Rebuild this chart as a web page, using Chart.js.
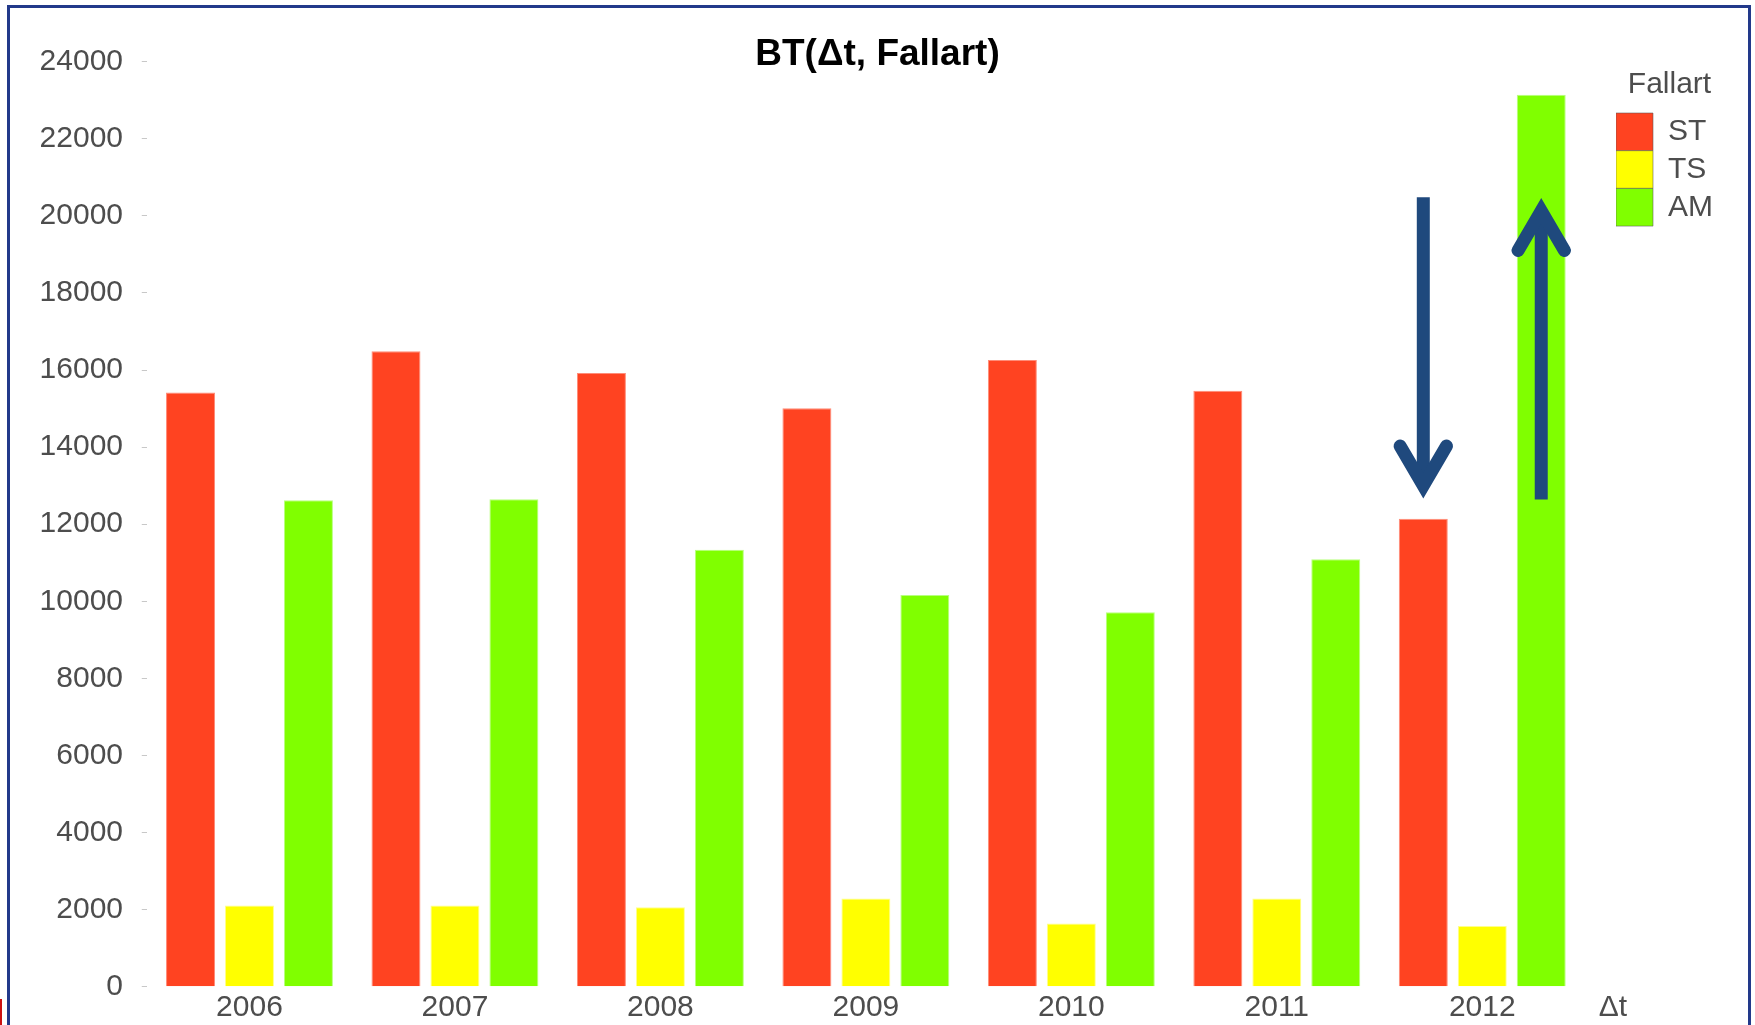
<!DOCTYPE html>
<html>
<head>
<meta charset="utf-8">
<script src="https://cdn.jsdelivr.net/npm/chart.js@4.4.1/dist/chart.umd.min.js"></script>
<style>
html,body{margin:0;padding:0;background:#fff;}
canvas{display:block;}
</style>
</head>
<body>
<canvas id="c" width="1755" height="1025"></canvas>
<script>
// ---- data ----
const categories = ['2006', '2007', '2008', '2009', '2010', '2011', '2012'];
const seriesNames = ['ST', 'TS', 'AM'];
const stValues = [15420, 16490, 15920, 15010, 16260, 15460, 12140];
const tsValues = [2110, 2110, 2060, 2290, 1640, 2290, 1575];
const amValues = [12620, 12650, 11340, 10160, 9715, 11090, 23140];
const yAxisMin = 0;
const yAxisMax = 24000;
const yAxisStep = 2000;
const chartTitle = 'BT(\u0394t, Fallart)';
const legendTitle = 'Fallart';
const xAxisName = '\u0394t';
// arrows annotating 2012: series index, category, start value, tip value
const arrowSeries = [0, 2];
const arrowCategory = ['2012', '2012'];
const arrowFrom = [20480, 12640];
const arrowTo = [12670, 20460];

// ---- style ----
const FONT = '"Liberation Sans", Arial, Helvetica, sans-serif';
const TEXT_GRAY = '#4d4d4d';
const fills = ['#FF4321', '#FFFF00', '#80FF00'];
const edges = ['#ff8c78', '#ffff8c', '#b8ff80'];
Chart.defaults.font.family = FONT;

const framePlugin = {
  id: 'frame',
  beforeDraw(chart) {
    const ctx = chart.ctx;
    ctx.save();
    ctx.fillStyle = '#ffffff';
    ctx.fillRect(0, 0, chart.width, chart.height);
    ctx.restore();
  },
  afterDraw(chart) {
    const ctx = chart.ctx;
    ctx.save();
    ctx.strokeStyle = '#22398a';
    ctx.lineWidth = 3;
    ctx.strokeRect(8.5, 6.5, 1741, 1100);
    ctx.fillStyle = '#cc1111';
    ctx.fillRect(0, 999, 2, 26);
    const xs = chart.scales.x;
    ctx.fillStyle = TEXT_GRAY;
    ctx.font = '30px ' + FONT;
    ctx.textAlign = 'center';
    ctx.textBaseline = 'middle';
    ctx.fillText(xAxisName, chart.chartArea.right + 28, xs.top + 3 + 18);
    ctx.restore();
  }
};

function drawArrow(ctx, x, yStart, yTip) {
  const dir = yTip > yStart ? 1 : -1;
  const lw = 13, ext = 12.8, wx = 23.2, wy = 39.5;
  const py = yTip - dir * ext;
  ctx.save();
  ctx.strokeStyle = '#1F497D';
  ctx.lineWidth = lw;
  ctx.lineCap = 'butt';
  ctx.beginPath();
  ctx.moveTo(x, yStart);
  ctx.lineTo(x, py);
  ctx.stroke();
  ctx.lineCap = 'round';
  ctx.lineJoin = 'miter';
  ctx.miterLimit = 10;
  ctx.beginPath();
  ctx.moveTo(x - wx, py - dir * wy);
  ctx.lineTo(x, py);
  ctx.lineTo(x + wx, py - dir * wy);
  ctx.stroke();
  ctx.restore();
}

const arrowPlugin = {
  id: 'arrows',
  afterDatasetsDraw(chart) {
    const ys = chart.scales.y;
    for (let i = 0; i < arrowSeries.length; i++) {
      const meta = chart.getDatasetMeta(arrowSeries[i]);
      const bar = meta.data[categories.indexOf(arrowCategory[i])];
      drawArrow(chart.ctx, bar.x, ys.getPixelForValue(arrowFrom[i]), ys.getPixelForValue(arrowTo[i]));
    }
  }
};

const seriesValues = [stValues, tsValues, amValues];
new Chart(document.getElementById('c'), {
  type: 'bar',
  data: {
    labels: categories,
    datasets: seriesNames.map((name, i) => ({
      label: name,
      data: seriesValues[i],
      backgroundColor: fills[i],
      borderColor: edges[i],
      borderWidth: 1,
      categoryPercentage: 0.861,
      barPercentage: 0.8305
    }))
  },
  options: {
    responsive: false,
    animation: false,
    layout: { padding: { left: 32, right: 32, top: 0, bottom: 0 } },
    scales: {
      x: {
        type: 'category',
        offset: true,
        grid: { display: false, drawTicks: false },
        border: { display: false },
        ticks: { color: TEXT_GRAY, font: { size: 30 }, padding: 3, maxRotation: 0 },
        afterFit(s) { s.height = 38.3; }
      },
      y: {
        type: 'linear',
        position: 'left',
        min: yAxisMin,
        max: yAxisMax,
        grid: { drawOnChartArea: false, drawTicks: true, tickLength: 5, color: '#c8c8c8', lineWidth: 1 },
        border: { display: false },
        ticks: {
          stepSize: yAxisStep,
          color: TEXT_GRAY,
          font: { size: 30 },
          padding: 18.75,
          callback: (v) => String(v)
        },
        afterFit(s) { s.width = 114.75; }
      },
      pad: {
        type: 'linear',
        position: 'right',
        display: true,
        grid: { display: false, drawTicks: false },
        border: { display: false },
        ticks: { display: false },
        afterFit(s) { s.width = 31; }
      }
    },
    plugins: {
      title: {
        display: true,
        text: chartTitle,
        color: '#000000',
        font: { size: 37, weight: 'bold', lineHeight: 1 },
        padding: { top: 36.5, bottom: -11.8 }
      },
      legend: {
        position: 'right',
        align: 'start',
        title: {
          display: true,
          text: legendTitle,
          color: TEXT_GRAY,
          font: { size: 30 },
          padding: { top: 70, bottom: 7 }
        },
        labels: {
          boxWidth: 37,
          boxHeight: 37.7,
          padding: 0,
          color: TEXT_GRAY,
          font: { size: 30 },
          generateLabels(chart) {
            const items = Chart.defaults.plugins.legend.labels.generateLabels(chart);
            items.forEach(it => { it.strokeStyle = 'rgba(90,90,90,0.55)'; it.lineWidth = 1; });
            return items;
          }
        }
      },
      tooltip: { enabled: false }
    }
  },
  plugins: [framePlugin, arrowPlugin]
});
</script>
</body>
</html>
